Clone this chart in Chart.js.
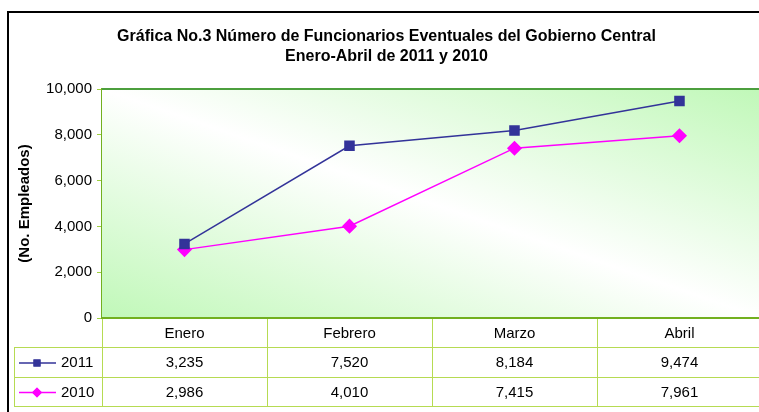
<!DOCTYPE html>
<html>
<head>
<meta charset="utf-8">
<script src="https://cdn.jsdelivr.net/npm/chart.js@4.4.1/dist/chart.umd.min.js"></script>
<style>
  html, body { margin: 0; padding: 0; background: #fff; }
  #c { display: block; }
</style>
</head>
<body>
<canvas id="c" width="759" height="412"></canvas>
<script>
// data
var meses = ["Enero", "Febrero", "Marzo", "Abril"];
var serie2011 = [3235, 7520, 8184, 9474];
var serie2010 = [2986, 4010, 7415, 7961];
var yTicks = [0, 2000, 4000, 6000, 8000, 10000];

var FONT = "'Liberation Sans', Arial, sans-serif";
var tablaColor = '#b6db52';

function fmt(v) { return v.toLocaleString('en-US'); }
function puntos(serie) { return serie.map(function(v, i) { return { x: i, y: v }; }); }

// gradient fill + plot borders
var fondoPlugin = {
  id: 'fondo',
  beforeDatasetsDraw: function(chart) {
    var a = chart.chartArea, ctx = chart.ctx;
    var right = chart.scales.x.getPixelForValue(meses.length - 0.5);
    var W = right - a.left, H = a.bottom - a.top;
    var cx = (a.left + right) / 2, cy = (a.top + a.bottom) / 2;
    var len = Math.sqrt(W * W + H * H);
    var nx = H / len, ny = -W / len;
    var k = W * H / len;
    var g = ctx.createLinearGradient(cx - k * nx, cy - k * ny, cx + k * nx, cy + k * ny);
    g.addColorStop(0, 'rgb(192,248,184)');
    g.addColorStop(0.5, '#ffffff');
    g.addColorStop(1, 'rgb(192,248,184)');
    ctx.save();
    ctx.fillStyle = g;
    ctx.fillRect(a.left, a.top, W, H);
    ctx.lineWidth = 2;
    ctx.strokeStyle = '#4c9f3e';
    ctx.beginPath(); ctx.moveTo(a.left, a.top); ctx.lineTo(right, a.top); ctx.stroke();
    ctx.strokeStyle = '#72b01f';
    ctx.beginPath(); ctx.moveTo(a.left - 1, a.bottom); ctx.lineTo(right, a.bottom); ctx.stroke();
    ctx.restore();
  }
};

// data table under the plot, with the legend in its first column
var tablaPlugin = {
  id: 'tabla',
  afterDraw: function(chart) {
    var ctx = chart.ctx, a = chart.chartArea, xs = chart.scales.x;
    var rows = [a.bottom, a.bottom + 29, a.bottom + 59, a.bottom + 88];
    var legLeft = 14;
    var right = xs.getPixelForValue(meses.length - 0.5);
    ctx.save();
    // frame
    ctx.strokeStyle = '#000';
    ctx.lineWidth = 2;
    ctx.strokeRect(8, 12, 800, 500);

    ctx.strokeStyle = tablaColor;
    ctx.lineWidth = 1;
    ctx.beginPath();
    for (var r = 1; r < rows.length; r++) {
      ctx.moveTo(legLeft, rows[r] + 0.5);
      ctx.lineTo(right, rows[r] + 0.5);
    }
    ctx.moveTo(legLeft + 0.5, rows[1]);
    ctx.lineTo(legLeft + 0.5, rows[3]);
    for (var i = 0; i <= meses.length; i++) {
      var bx = Math.round(xs.getPixelForValue(i - 0.5)) + 0.5;
      ctx.moveTo(bx, rows[0] + 1);
      ctx.lineTo(bx, rows[3]);
    }
    ctx.stroke();

    ctx.fillStyle = '#000';
    ctx.font = '15px ' + FONT;
    ctx.textAlign = 'center';
    ctx.textBaseline = 'middle';
    meses.forEach(function(m, i) {
      ctx.fillText(m, xs.getPixelForValue(i), (rows[0] + rows[1]) / 2 + 1);
    });
    chart.data.datasets.forEach(function(ds, d) {
      var y = (rows[d + 1] + rows[d + 2]) / 2 + 1;
      ds.data.forEach(function(p) {
        ctx.fillStyle = '#000';
        ctx.fillText(fmt(p.y), xs.getPixelForValue(p.x), y);
      });
      // legend sample
      ctx.strokeStyle = ds.borderColor;
      ctx.lineWidth = 1.5;
      ctx.beginPath(); ctx.moveTo(19, y); ctx.lineTo(56, y); ctx.stroke();
      ctx.fillStyle = ds.pointBackgroundColor;
      Chart.helpers.drawPoint(ctx, {
        pointStyle: ds.pointStyle, radius: ds.legendRadius, rotation: 0, borderWidth: 0
      }, 37, y);
      ctx.fill();
      ctx.fillStyle = '#000';
      ctx.textAlign = 'left';
      ctx.fillText(ds.label, 61, y);
      ctx.textAlign = 'center';
    });
    ctx.restore();
  }
};

new Chart(document.getElementById('c'), {
  type: 'line',
  data: {
    datasets: [{
      label: '2011',
      data: puntos(serie2011),
      borderColor: '#333399',
      backgroundColor: '#333399',
      pointBackgroundColor: '#333399',
      pointBorderColor: '#333399',
      pointStyle: 'rect',
      pointRadius: 6.4,
      legendRadius: 5,
      borderWidth: 1.5,
      tension: 0
    }, {
      label: '2010',
      data: puntos(serie2010),
      borderColor: '#ff00ff',
      backgroundColor: '#ff00ff',
      pointBackgroundColor: '#ff00ff',
      pointBorderColor: '#ff00ff',
      pointStyle: 'rectRot',
      pointRadius: 6.5,
      legendRadius: 5,
      borderWidth: 1.5,
      tension: 0
    }]
  },
  options: {
    responsive: false,
    animation: false,
    layout: { autoPadding: false, padding: { left: 14, right: 0, top: 0, bottom: 94 } },
    plugins: {
      legend: { display: false },
      tooltip: { enabled: false },
      title: {
        display: true,
        text: ['Gráfica No.3 Número de Funcionarios Eventuales del Gobierno Central', 'Enero-Abril de 2011 y 2010'],
        color: '#000',
        font: { family: FONT, size: 16, weight: 'bold', lineHeight: 1.25 },
        padding: { top: 27, bottom: 22 }
      }
    },
    scales: {
      // plot continues ~3px past the window edge, as in the picture
      x: { type: 'linear', display: false, min: -0.5, max: 3.482 },
      y: {
        min: 0,
        max: 10000,
        afterFit: function(s) { s.width = 88; },
        afterBuildTicks: function(s) { s.ticks = yTicks.map(function(v) { return { value: v }; }); },
        ticks: {
          color: '#000',
          padding: 5,
          font: { family: FONT, size: 15 },
          callback: function(v) { return fmt(v); }
        },
        grid: { drawOnChartArea: false, drawTicks: true, tickLength: 5, color: '#9fd040' },
        border: { display: true, color: '#72b01f', width: 2 },
        title: {
          display: true,
          text: '(No. Empleados)',
          color: '#000',
          font: { family: FONT, size: 15, weight: 'bold' },
          padding: { top: 2, bottom: 0 }
        }
      }
    }
  },
  plugins: [fondoPlugin, tablaPlugin]
});
</script>
</body>
</html>
